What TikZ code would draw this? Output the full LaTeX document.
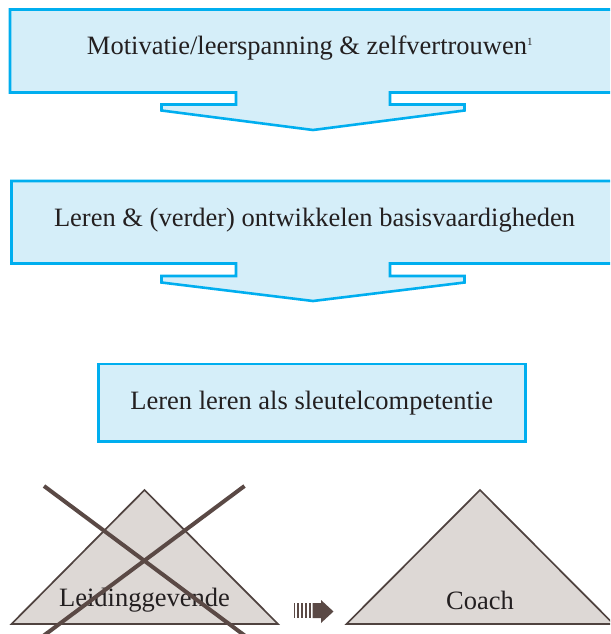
\documentclass[tikz,border=0pt]{standalone}
\usepackage{fontspec}
\setmainfont{Liberation Serif}
\definecolor{flowline}{HTML}{00AEEF}
\definecolor{flowfill}{HTML}{D5EEF9}
\definecolor{inktext}{HTML}{231F20}
\definecolor{pyrfill}{HTML}{DDD8D5}
\definecolor{pyrline}{HTML}{4F423F}
\definecolor{crossline}{HTML}{5A4945}
\begin{document}
\begin{tikzpicture}[x=1pt,y=-1pt,
  flowshape/.style={draw=flowline,fill=flowfill,line width=2.6pt,line join=miter},
  boxlabel/.style={text=inktext,font=\fontsize{26.5}{30}\selectfont,inner sep=0pt},
  pyramid/.style={draw=pyrline,fill=pyrfill,line width=1.7pt,line join=miter},
  strike/.style={draw=crossline,line width=4pt},
  shiftmark/.style={fill=crossline,draw=none}]
\useasboundingbox (0,0) rectangle (610,634);
\clip (0,0) rectangle (610,634);

% first step: box with downward arrow
\path[flowshape] (10,9.5) -- (618,9.5) -- (618,92.5) -- (390,92.5) -- (390,104.5)
  -- (464.5,104.5) -- (464.5,110.5) -- (313,130) -- (161.5,110.5) -- (161.5,104.5)
  -- (236,104.5) -- (236,92.5) -- (10,92.5) -- cycle;
\node[boxlabel] (motivatie) at (310,48) {Motivatie/leerspanning \& zelfvertrouwen\textsuperscript{\fontsize{11}{11}\selectfont 1}};

% second step: box with downward arrow
\path[flowshape] (11.5,181) -- (618,181) -- (618,263.5) -- (390,263.5) -- (390,276)
  -- (464.5,276) -- (464.5,282.5) -- (313,301) -- (161.5,282.5) -- (161.5,276)
  -- (236,276) -- (236,263.5) -- (11.5,263.5) -- cycle;
\node[boxlabel] (leren) at (314.5,220) {Leren \& (verder) ontwikkelen basisvaardigheden};

% third step: plain box
\node[flowshape,minimum width=427pt,minimum height=77.5pt,inner sep=0pt] (sleutel) at (311.8,402.8) {};
\node[boxlabel] at (sleutel.center) (sleuteltext) {Leren leren als sleutelcompetentie};

% old role, crossed out
\path[pyramid] (144.5,490) -- (278,624) -- (11.5,624) -- cycle;
\node[boxlabel] (leiding) at (144.5,600) {Leidinggevende};
\draw[strike] (44,486) -- (252,641);
\draw[strike] (244.5,486) -- (36.5,641);

% shift marker
\foreach \bx/\bw in {293.8/1.3,297.2/1.6,300.8/1.9,304.6/2.2,308.6/2.5}
  \fill[crossline] (\bx,603) rectangle ++(\bw,15);
\path[shiftmark] (312.5,603) -- (321,603) -- (321,600) -- (333.5,611.5) -- (321,623)
  -- (321,618) -- (312.5,618) -- cycle;

% new role
\path[pyramid] (480,490) -- (613.5,624) -- (346.5,624) -- cycle;
\node[boxlabel] (coach) at (480,600) {Coach};
\end{tikzpicture}
\end{document}
